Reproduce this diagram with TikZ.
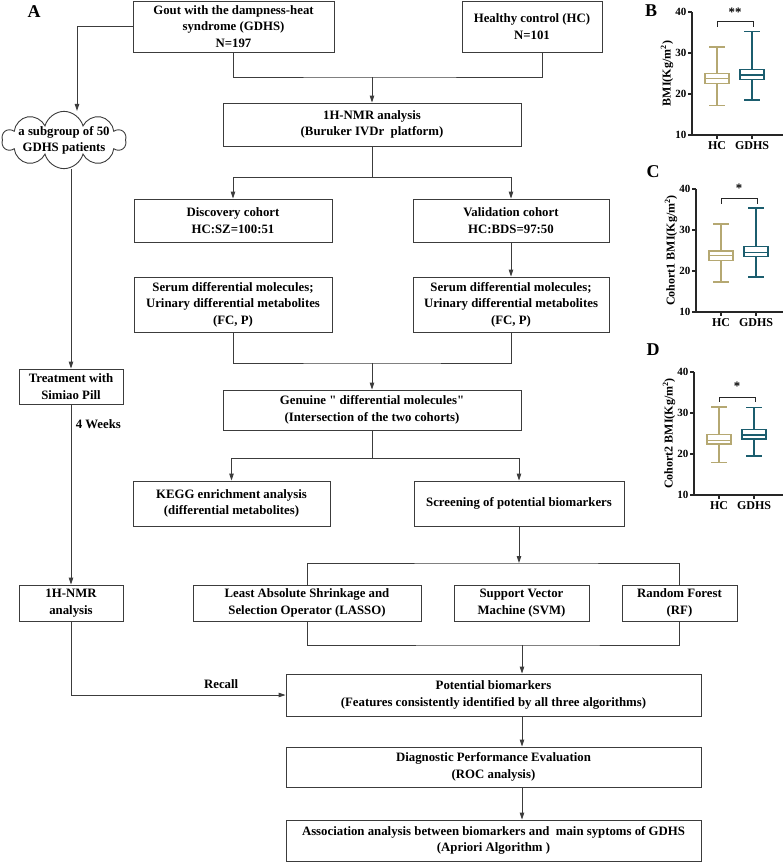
\documentclass[tikz,border=0pt]{standalone}
\usepackage{fontspec}
\setmainfont{Liberation Serif}[Ligatures=TeXOff]
\usetikzlibrary{arrows.meta,positioning,shapes.symbols}
\definecolor{linegray}{HTML}{3C3C3C}
\definecolor{hctan}{HTML}{B5A872}
\definecolor{gdhsteal}{HTML}{1B5D6E}

% one box-and-whisker: x, low, q1, median, q3, high, colour
\newcommand{\bmibox}[7]{%
  \draw[#7,line width=1.6pt] (#1-12,#3) rectangle (#1+12,#5);
  \draw[#7,line width=1.6pt] (#1-12,#4) -- (#1+12,#4);
  \draw[#7,line width=1.6pt] (#1,#3) -- (#1,#2) (#1-8,#2) -- (#1+8,#2);
  \draw[#7,line width=1.6pt] (#1,#5) -- (#1,#6) (#1-8,#6) -- (#1+8,#6);
}
% axes of one BMI panel, y label as argument
\newcommand{\bmiaxes}[1]{%
  \draw[axis] (0,40) -- (0,10) -- (91,10);
  \foreach \v in {10,20,30,40}
    \draw[axis] (0,\v) -- (-4,\v) node[left=0pt,ticklab] {\v};
  \draw[axis] (25,10) -- (25,9) node[below=0pt,grouplab] (hcl) {HC};
  \draw[axis] (60,10) -- (60,9) node[below=0pt,grouplab] (gdl) {GDHS};
  \node[rotate=90,grouplab] (ylab) at (-25,25) {#1};
}

\begin{document}
\begin{tikzpicture}[x=1pt,y=-1pt,
    box/.style={draw=linegray,line width=0.9pt,align=center,inner sep=2pt,
      font=\bfseries\fontsize{12.8}{16.5}\selectfont},
    arr/.style={draw=linegray,line width=0.9pt,-{Triangle[length=7pt,width=4.5pt]}},
    ln/.style={draw=linegray,line width=0.9pt},
    lab/.style={font=\bfseries\fontsize{12.8}{14}\selectfont},
    panel/.style={font=\bfseries\fontsize{18}{18}\selectfont},
    axis/.style={draw=black!85,line width=1.1pt},
    ticklab/.style={font=\bfseries\fontsize{11}{11}\selectfont,inner sep=1pt},
    grouplab/.style={font=\bfseries\fontsize{12}{12}\selectfont,inner sep=2pt}]
  \useasboundingbox (0,0) rectangle (783,863);

  % ---- flow chart (A) ----
  \node[panel] (pa) at (34,12) {A};
  \node[box,minimum width=201pt,minimum height=51pt] (gdhs) at (233.5,26.5)
    {Gout with the dampness-heat\\syndrome (GDHS)\\N=197};
  \node[box,minimum width=140pt,minimum height=51pt] (hc) at (532,26.5)
    {Healthy control (HC)\\N=101};
  \node[box,minimum width=298pt,minimum height=43pt] (nmr) at (372,124.5)
    {1H-NMR analysis\\(Buruker IVDr\ \ platform)};
  \node[box,minimum width=198pt,minimum height=43pt] (disc) at (233,220.5)
    {Discovery cohort\\HC:SZ=100:51};
  \node[box,minimum width=196pt,minimum height=43pt] (valid) at (511,220.5)
    {Validation cohort\\HC:BDS=97:50};
  \node[box,minimum width=198pt,minimum height=55pt] (serum1) at (233,304.5)
    {Serum differential molecules;\\Urinary differential metabolites\\(FC, P)};
  \node[box,minimum width=196pt,minimum height=55pt] (serum2) at (511,304.5)
    {Serum differential molecules;\\Urinary differential metabolites\\(FC, P)};
  \node[box,minimum width=298pt,minimum height=40pt] (genuine) at (372,410)
    {Genuine " differential molecules"\\(Intersection of the two cohorts)};
  \node[box,minimum width=197pt,minimum height=45pt] (kegg) at (231.5,503.5)
    {KEGG enrichment analysis\\(differential metabolites)};
  \node[box,minimum width=210pt,minimum height=45pt] (screen) at (519,503.5)
    {Screening of potential biomarkers};
  \node[box,minimum width=228pt,minimum height=36pt] (lasso) at (307,603)
    {Least Absolute Shrinkage and\\Selection Operator (LASSO)};
  \node[box,minimum width=135pt,minimum height=36pt] (svm) at (521.5,603)
    {Support Vector\\Machine (SVM)};
  \node[box,minimum width=115pt,minimum height=36pt] (rf) at (679.5,603)
    {Random Forest\\(RF)};
  \node[box,minimum width=415pt,minimum height=42pt] (potential) at (493.5,695)
    {Potential biomarkers\\(Features consistently identified by all three algorithms)};
  \node[box,minimum width=415pt,minimum height=40pt] (diag) at (493.5,767)
    {Diagnostic Performance Evaluation\\(ROC analysis)};
  \node[box,minimum width=415pt,minimum height=41pt] (assoc) at (493.5,840.5)
    {Association analysis between biomarkers and\ \ main syptoms of GDHS\\(Apriori Algorithm\ )};

  % left branch
  \node[cloud,draw=linegray,line width=0.9pt,cloud puffs=10,aspect=2.6,
        minimum width=124pt,minimum height=48pt,inner xsep=-12pt,inner ysep=-11pt,
        align=center,font=\bfseries\fontsize{12.8}{16}\selectfont] (cloud) at (64,140)
    {a subgroup of 50\\GDHS patients};
  \node[box,minimum width=104pt,minimum height=35pt] (treat) at (71,386.5)
    {Treatment with\\Simiao Pill};
  \node[box,minimum width=104pt,minimum height=36pt] (nmrl) at (71,603)
    {1H-NMR\\analysis};

  % junctions
  \coordinate (j1) at (372,77);
  \coordinate (j2) at (372,177);
  \coordinate (j3) at (372,363);
  \coordinate (j4) at (372,458);
  \coordinate (j5) at (519,563);
  \coordinate (j6) at (522,645);

  \draw[ln] (gdhs.south) |- (j1) -| ([xshift=10pt]hc.south);
  \draw[arr] (j1) -- (nmr.north);
  \draw[ln] (nmr.south) -- (j2);
  \draw[arr] (j2) -| (disc.north);
  \draw[arr] (j2) -| (valid.north);
  \draw[arr] (valid.south) -- (serum2.north);
  \draw[ln] (serum1.south) |- (j3) -| (serum2.south);
  \draw[arr] (j3) -- (genuine.north);
  \draw[ln] (genuine.south) -- (j4);
  \draw[arr] (j4) -| (kegg.north);
  \draw[arr] (j4) -| (screen.north);
  \draw[arr] (screen.south) -- (j5);
  \draw[ln] (lasso.north) |- (j5) -| (rf.north);
  \draw[ln] (lasso.south) |- (j6) -| (rf.south);
  \draw[arr] (j6) -- (j6 |- potential.north);
  \draw[arr] (j6 |- potential.south) -- (j6 |- diag.north);
  \draw[arr] (j6 |- diag.south) -- (j6 |- assoc.north);

  \draw[arr] (gdhs.west) -| ([xshift=13pt]cloud.north);
  \draw[arr] (treat.north |- cloud.south) -- (treat.north);
  \draw[arr] (treat.south) -- (nmrl.north)
    node[pos=0.11,right=1pt,lab] (weeks) {4 Weeks};
  \draw[arr] (nmrl.south) |- (potential.west)
    node[pos=0.85,above=3pt,lab] (recall) {Recall};

  % ---- BMI panels (B, C, D) ----
  \node[panel] (pb) at (651,11) {B};
  \begin{scope}[shift={(692,176)},y={(0pt,4.1pt)}]
    \bmiaxes{BMI(Kg/m$^{\mathbf{2}}$)}
    \bmibox{25}{17.2}{22.6}{23.8}{25}{31.5}{hctan}
    \bmibox{60}{18.5}{23.5}{24.7}{26}{35.2}{gdhsteal}
    \draw[axis,line width=0.9pt] (25,36.4) -- (25,37.6) -- (61,37.6) -- (61,36.4);
    \node[lab] (sigb) at (43,40) {**};
  \end{scope}

  \node[panel] (pc) at (653,172) {C};
  \begin{scope}[shift={(696,353)},y={(0pt,4.1pt)}]
    \bmiaxes{Cohort1 BMI(Kg/m$^{\mathbf{2}}$)}
    \bmibox{25}{17.3}{22.6}{23.8}{24.9}{31.5}{hctan}
    \bmibox{60}{18.6}{23.5}{24.5}{26}{35.3}{gdhsteal}
    \draw[axis,line width=0.9pt] (25,36.4) -- (25,37.6) -- (61,37.6) -- (61,36.4);
    \node[lab] (sigc) at (43,40.2) {*};
  \end{scope}

  \node[panel] (pd) at (653,350) {D};
  \begin{scope}[shift={(694,536)},y={(0pt,4.1pt)}]
    \bmiaxes{Cohort2 BMI(Kg/m$^{\mathbf{2}}$)}
    \bmibox{25}{17.9}{22.4}{23.3}{24.8}{31.5}{hctan}
    \bmibox{60}{19.5}{23.7}{24.7}{26}{31.3}{gdhsteal}
    \draw[axis,line width=0.9pt] (25,32.7) -- (25,33.9) -- (61,33.9) -- (61,32.7);
    \node[lab] (sigd) at (43,36.5) {*};
  \end{scope}
\end{tikzpicture}
\end{document}
